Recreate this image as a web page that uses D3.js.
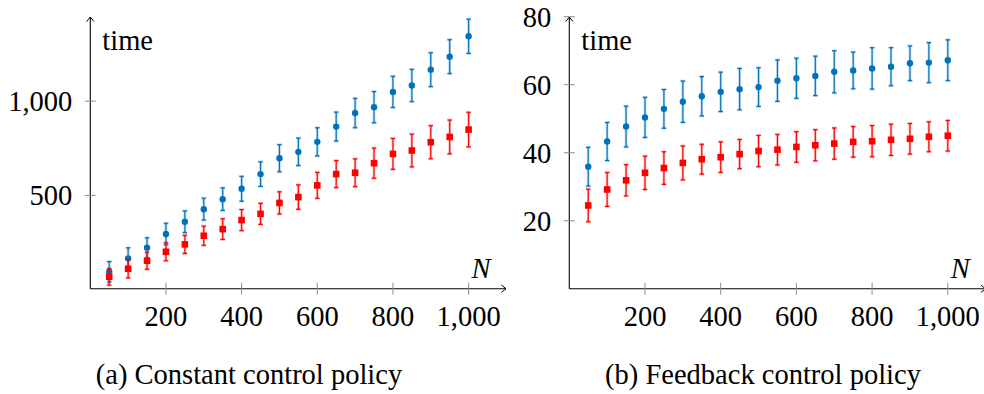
<!DOCTYPE html>
<html>
<head>
<meta charset="utf-8">
<script src="https://cdn.jsdelivr.net/npm/d3@7"></script>
</head>
<body style="margin:0">
<svg id="chart" width="984" height="394" font-family="Liberation Serif" style="font-family: 'Liberation Serif'"></svg>
<script>
// ---- data ----
const N = [50,100,150,200,250,300,350,400,450,500,550,600,650,700,750,800,850,900,950,1000];
const xTicks = [200,400,600,800,1000];

// (a) Constant control policy
const constBlue    = [95,166,222,295,360,427,480,535,613,697,731,784,865,937,968,1049,1083,1167,1236,1344];
const constBlueErr = [54,56,53,57,58,58,60,66,65,72,73,75,77,78,83,83,86,90,90,91];
const constRed     = [68,111,153,201,240,286,321,369,402,460,491,553,613,620,671,720,738,782,810,849];
const constRedErr  = [44,49,45,48,48,51,55,56,56,59,65,69,72,74,80,82,87,88,90,92];
const constYTicks  = [500,1000];

// (b) Feedback control policy
const feedBlue    = [35.9,43.3,47.7,50.4,52.9,55.0,56.6,57.9,58.7,59.3,61.2,61.9,62.6,63.8,64.2,64.8,65.3,66.3,66.5,67.2];
const feedBlueErr = [5.7,5.6,6.0,5.9,5.7,6.1,5.8,5.8,6.1,5.7,6.1,5.9,5.8,6.2,5.4,6.1,5.6,5.1,5.9,6.0];
const feedRed     = [24.5,29.2,31.9,34.1,35.5,37.0,38.1,38.7,39.6,40.5,40.9,41.7,42.2,42.7,43.2,43.4,43.8,44.1,44.7,45.0];
const feedRedErr  = [4.8,5.0,4.6,4.9,4.8,5.0,4.4,4.5,4.3,4.6,4.5,4.5,4.6,4.6,4.5,4.6,4.6,4.5,4.4,4.5];
const feedYTicks  = [20,40,60,80];

const captions = ["(a) Constant control policy", "(b) Feedback control policy"];

const BLUE = "#0072bd";
const RED = "#ff0000";
const FS = 28.5;

const svg = d3.select("#chart");
const fmt = d3.format(",");

function txt(sel) {
  return sel.attr("font-family", "Times New Roman").attr("font-size", FS);
}

function panel(opts) {
  const g = svg.append("g");
  const x = d3.scaleLinear().domain([0, 1000]).range([opts.x0, opts.x1000]);
  const y = d3.scaleLinear().domain(opts.yDomain).range(opts.yRange);
  const axY = y(opts.yDomain[0]);
  const axX = x(0);

  g.append("line").attr("x1", axX).attr("x2", opts.xArrow).attr("y1", axY).attr("y2", axY)
    .attr("stroke", "#000").attr("stroke-width", 1.1);
  g.append("line").attr("x1", axX).attr("x2", axX).attr("y1", axY).attr("y2", opts.yArrow)
    .attr("stroke", "#000").attr("stroke-width", 1.1);
  g.append("path")
    .attr("d", `M${opts.xArrow-4.5},${axY-3.6} L${opts.xArrow},${axY} L${opts.xArrow-4.5},${axY+3.6}`)
    .attr("fill", "none").attr("stroke", "#000").attr("stroke-width", 1);
  g.append("path")
    .attr("d", `M${axX-3.6},${opts.yArrow+4.5} L${axX},${opts.yArrow} L${axX+3.6},${opts.yArrow+4.5}`)
    .attr("fill", "none").attr("stroke", "#000").attr("stroke-width", 1);

  const xt = g.selectAll(".xt").data(xTicks).enter().append("g");
  xt.append("line").attr("x1", d => x(d)).attr("x2", d => x(d))
    .attr("y1", axY - 6).attr("y2", axY + 6).attr("stroke", "#8c8c8c").attr("stroke-width", 1);
  txt(xt.append("text")).attr("x", d => x(d)).attr("y", axY + 37)
    .attr("text-anchor", "middle").text(d => fmt(d));

  const yt = g.selectAll(".yt").data(opts.yTicks).enter().append("g");
  yt.append("line").attr("x1", axX - 5.5).attr("x2", axX + 5.5)
    .attr("y1", d => y(d)).attr("y2", d => y(d)).attr("stroke", "#8c8c8c").attr("stroke-width", 1);
  txt(yt.append("text")).attr("x", axX - 18).attr("y", d => y(d) + 10)
    .attr("text-anchor", "end").text(d => fmt(d));

  txt(g.append("text")).attr("x", axX + 12).attr("y", 50).text("time");
  txt(g.append("text")).attr("x", x(1000) + 3).attr("y", 277.5)
    .attr("font-style", "italic").text("N");

  function series(vals, errs, color, mark) {
    const s = g.append("g");
    const data = N.map((n, i) => ({ n, v: vals[i], e: errs[i] }));
    const eb = s.selectAll(".eb").data(data).enter().append("g");
    [[2.6, 0.3], [1.1, 1]].forEach(([w, op]) => {
      eb.append("line").attr("x1", d => x(d.n)).attr("x2", d => x(d.n))
        .attr("y1", d => y(d.v - d.e)).attr("y2", d => y(d.v + d.e))
        .attr("stroke", color).attr("stroke-width", w).attr("stroke-opacity", op);
      eb.append("line").attr("x1", d => x(d.n) - 2.3).attr("x2", d => x(d.n) + 2.3)
        .attr("y1", d => y(d.v + d.e)).attr("y2", d => y(d.v + d.e))
        .attr("stroke", color).attr("stroke-width", w).attr("stroke-opacity", op);
      eb.append("line").attr("x1", d => x(d.n) - 2.3).attr("x2", d => x(d.n) + 2.3)
        .attr("y1", d => y(d.v - d.e)).attr("y2", d => y(d.v - d.e))
        .attr("stroke", color).attr("stroke-width", w).attr("stroke-opacity", op);
    });
    if (mark === "circle") {
      s.selectAll(".m").data(data).enter().append("circle")
        .attr("cx", d => x(d.n)).attr("cy", d => y(d.v)).attr("r", 3.2).attr("fill", color);
    } else {
      s.selectAll(".m").data(data).enter().append("rect")
        .attr("x", d => x(d.n) - 3.3).attr("y", d => y(d.v) - 3.3)
        .attr("width", 6.6).attr("height", 6.6).attr("fill", color);
    }
  }
  series(opts.blue, opts.blueErr, BLUE, "circle");
  series(opts.red, opts.redErr, RED, "square");

  txt(svg.append("text")).attr("x", opts.capX).attr("y", 384).attr("text-anchor", "middle")
    .text(opts.caption);
}

panel({
  x0: 90.3, x1000: 468.6, xArrow: 506,
  yDomain: [5, 1440], yRange: [288.7, 18.2], yArrow: 17,
  yTicks: constYTicks,
  blue: constBlue, blueErr: constBlueErr, red: constRed, redErr: constRedErr,
  caption: captions[0], capX: 249
});
panel({
  x0: 569.3, x1000: 947.8, xArrow: 985.5,
  yDomain: [0, 80], yRange: [288.8, 16.7], yArrow: 17,
  yTicks: feedYTicks,
  blue: feedBlue, blueErr: feedBlueErr, red: feedRed, redErr: feedRedErr,
  caption: captions[1], capX: 763
});
</script>
</body>
</html>
